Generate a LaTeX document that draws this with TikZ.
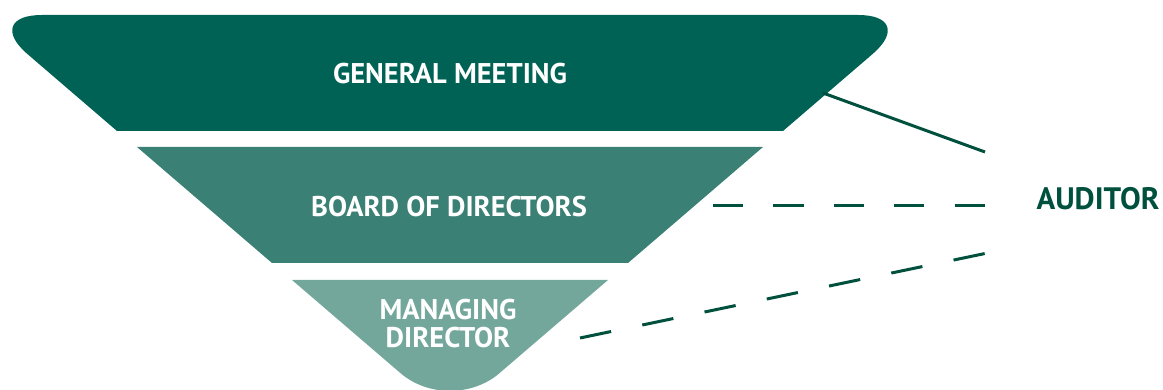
\documentclass[tikz,border=0pt]{standalone}
\usepackage{fontspec}
\setmainfont{PT Sans}
\definecolor{gmcol}{HTML}{006255}
\definecolor{bdcol}{HTML}{3A8074}
\definecolor{mdcol}{HTML}{74A79C}
\definecolor{linecol}{HTML}{00503E}
\begin{document}
\begin{tikzpicture}[x=1pt,y=-1pt,
  lbl/.style={text=white,font=\bfseries\fontsize{28.5}{28}\selectfont,align=center,inner sep=0pt},
  conn/.style={draw=linecol,line width=3pt},
  dashconn/.style={conn,dash pattern=on #1 off #1},
]
\useasboundingbox (0,0) rectangle (1163,390);
% General meeting
\fill[gmcol] (117,131) -- (27.5,54.1) .. controls (2.4,32.5) and (8.9,15) .. (42,15)
  -- (858,15) .. controls (891.1,15) and (897.6,32.5) .. (872.5,54.1) -- (783,131) -- cycle;
% Board
\fill[bdcol] (137,147) -- (763,147) -- (628,263) -- (272,263) -- cycle;
% Managing director
\fill[mdcol] (292,280) -- (608,280) -- (499.3,373.3) .. controls (472.1,396.7) and (427.9,396.7) .. (400.7,373.3) -- cycle;

\node[lbl] (gm) at (450,74) {GENERAL MEETING};
\node[lbl] (bd) at (449,207) {BOARD OF DIRECTORS};
\node[lbl] (md) at (448,324) {MANAGING\\DIRECTOR};
\node[text=linecol,font=\bfseries\fontsize{31}{31}\selectfont,inner sep=0pt] (aud) at (1098,199) {AUDITOR};

\coordinate (gmE) at (823,93);
\coordinate (audA) at (985,152);
\coordinate (bdE) at (713,206);
\coordinate (audB) at (985,206);
\coordinate (mdE) at (580,338);
\coordinate (audC) at (985,253.5);

\draw[conn] (gmE) -- (audA);
\draw[dashconn=30.2] (bdE) -- (audB);
\draw[dashconn=31.8] (mdE) -- (audC);
\end{tikzpicture}
\end{document}
